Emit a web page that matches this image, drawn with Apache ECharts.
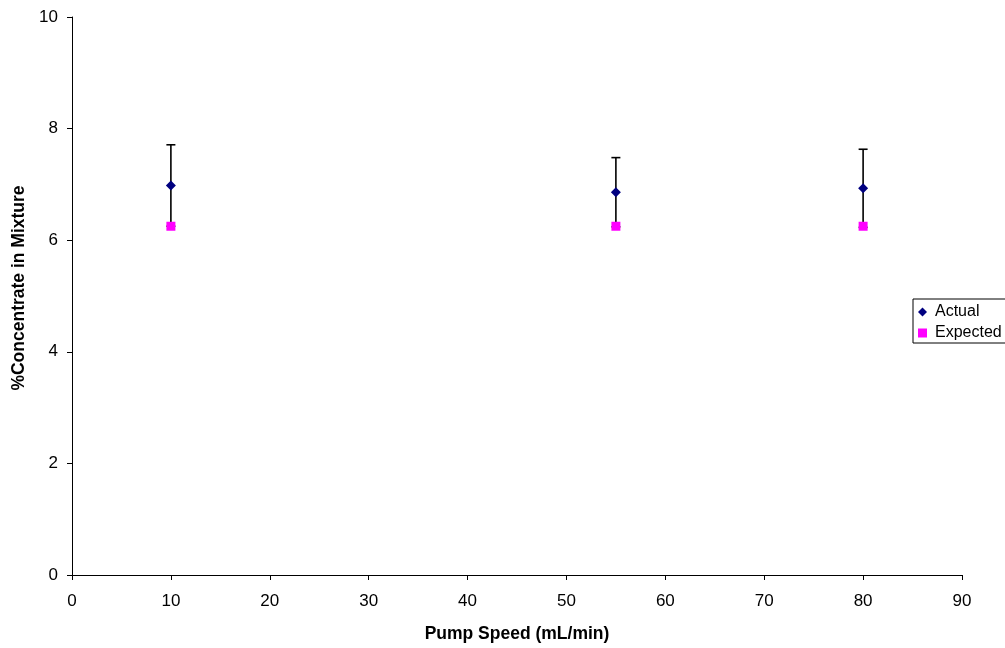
<!DOCTYPE html>
<html>
<head>
<meta charset="utf-8">
<script src="https://cdn.jsdelivr.net/npm/echarts@6/dist/echarts.min.js"></script>
<style>html,body{margin:0;padding:0;background:#fff}#c{width:1005px;height:648px}</style>
</head>
<body>
<div id="c"></div>
<script>
var pumpSpeed = [10, 55, 80];
var actual = [6.98, 6.86, 6.93];
var actualErr = [0.73, 0.62, 0.70];
var expected = [6.25, 6.25, 6.25];

var chart = echarts.init(document.getElementById('c'));
var font = 'Arial, "Liberation Sans", sans-serif';
var actualData = pumpSpeed.map(function (x, i) { return [x, actual[i]]; });
var expectedData = pumpSpeed.map(function (x, i) { return [x, expected[i]]; });
var errData = pumpSpeed.map(function (x, i) { return [x, actual[i] - actualErr[i], actual[i] + actualErr[i]]; });

chart.setOption({
  animation: false,
  backgroundColor: '#fff',
  grid: { left: 72, right: 43, top: 17, bottom: 71, containLabel: false },
  legend: {
    orient: 'vertical',
    left: 913, top: 299,
    data: ['Actual', 'Expected'],
    itemWidth: 9, itemHeight: 9, itemGap: 5,
    padding: [5, 30, 2, 5],
    borderColor: '#000', borderWidth: 1,
    textStyle: { fontFamily: font, fontSize: 16, color: '#000', padding: [0, 0, 0, 3] }
  },
  xAxis: {
    type: 'value', min: 0, max: 90, interval: 10,
    name: 'Pump Speed (mL/min)', nameLocation: 'middle', nameGap: 50,
    nameTextStyle: { fontFamily: font, fontSize: 17.5, fontWeight: 'bold', color: '#000' },
    axisLine: { show: true, lineStyle: { color: '#000', width: 1 } },
    axisTick: { show: true, inside: false, length: 5, lineStyle: { color: '#000' } },
    axisLabel: { fontFamily: font, fontSize: 17, color: '#000', margin: 18 },
    splitLine: { show: false }
  },
  yAxis: {
    type: 'value', min: 0, max: 10, interval: 2,
    name: '%Concentrate in Mixture', nameLocation: 'middle', nameGap: 42,
    nameTextStyle: { fontFamily: font, fontSize: 17.5, fontWeight: 'bold', color: '#000', padding: [0, 0, 0, 16] },
    axisLine: { show: true, lineStyle: { color: '#000', width: 1 } },
    axisTick: { show: true, inside: false, length: 5, lineStyle: { color: '#000' } },
    axisLabel: { fontFamily: font, fontSize: 17, color: '#000', margin: 14 },
    splitLine: { show: false }
  },
  series: [
    {
      name: 'errbar', type: 'custom', silent: true, z: 1,
      data: errData,
      renderItem: function (params, api) {
        var x = api.value(0);
        var lo = api.coord([x, api.value(1)]);
        var hi = api.coord([x, api.value(2)]);
        var w = 4.5;
        var st = { stroke: '#000', lineWidth: 1.6 };
        return {
          type: 'group',
          children: [
            { type: 'line', shape: { x1: lo[0], y1: lo[1], x2: hi[0], y2: hi[1] }, style: st },
            { type: 'line', shape: { x1: hi[0] - w, y1: hi[1], x2: hi[0] + w, y2: hi[1] }, style: st },
            { type: 'line', shape: { x1: lo[0] - w, y1: lo[1], x2: lo[0] + w, y2: lo[1] }, style: st }
          ]
        };
      }
    },
    {
      name: 'Expected', type: 'scatter', symbol: 'rect', symbolSize: 9, z: 3,
      itemStyle: { color: '#FF00FF', opacity: 1 },
      data: expectedData
    },
    {
      name: 'Actual', type: 'scatter', symbol: 'diamond', symbolSize: [10, 10], z: 4,
      itemStyle: { color: '#000080', opacity: 1 },
      data: actualData
    }
  ]
});
</script>
</body>
</html>
